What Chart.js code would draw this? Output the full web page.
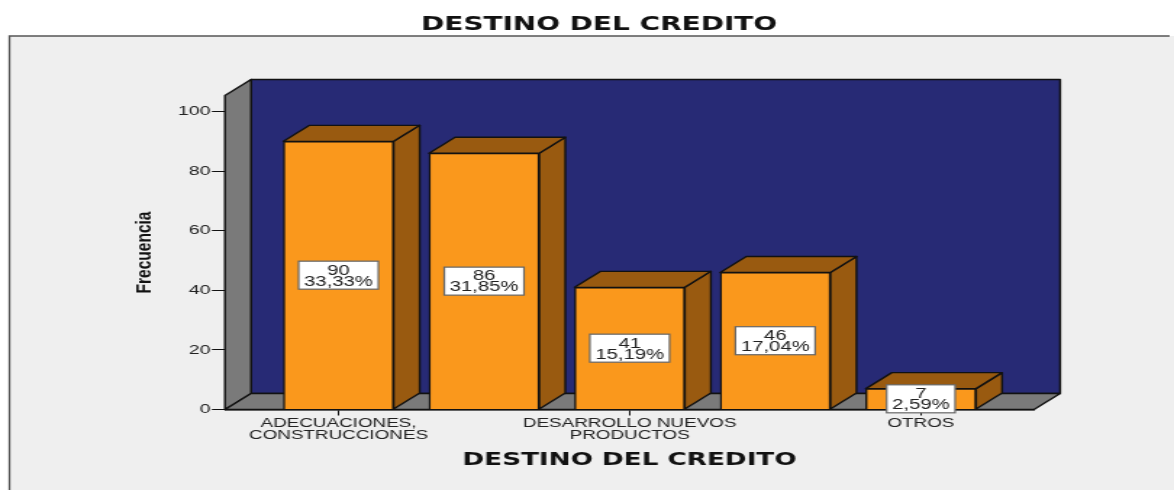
<!DOCTYPE html>
<html><head><meta charset="utf-8">
<script src="https://cdn.jsdelivr.net/npm/chart.js@4"></script>
<style>
html,body{margin:0;padding:0;background:#fff;width:1174px;height:490px;overflow:hidden}
#wrap{width:1174px;height:490px;overflow:hidden;position:relative}
canvas{position:absolute;left:0;top:0;transform-origin:0 0;transform:scaleX(1.4494)}
</style></head><body>
<div id="wrap"><canvas id="c" width="827" height="490"></canvas></div>
<script>
const chartTitle = 'DESTINO DEL CREDITO';
const xTitle = 'DESTINO DEL CREDITO';
const yTitle = 'Frecuencia';
const categories = [['ADECUACIONES,','CONSTRUCCIONES'], [''], ['DESARROLLO NUEVOS','PRODUCTOS'], [''], ['OTROS']];
const values = [90, 86, 41, 46, 7];
const percents = ['33,33%', '31,85%', '15,19%', '17,04%', '2,59%'];
const labelledTicks = [0, 2, 4];
const yTicks = [0, 20, 40, 60, 80, 100];

const DX = 18, DY = 16; // oblique depth of the 3D frame, canvas px
const poly = (ctx, pts, fill) => {
  ctx.beginPath();
  pts.forEach((p, i) => i ? ctx.lineTo(p[0], p[1]) : ctx.moveTo(p[0], p[1]));
  ctx.closePath();
  ctx.fillStyle = fill; ctx.fill();
  ctx.strokeStyle = '#111'; ctx.lineWidth = 1.4; ctx.lineJoin = 'round'; ctx.stroke();
};
const threeD = {
  id: 'threeD',
  beforeDraw(chart) {
    const c = chart.ctx;
    c.save();
    c.fillStyle = '#fff'; c.fillRect(0, 0, chart.width, chart.height);
    c.fillStyle = '#efefef'; c.fillRect(6, 36, chart.width, chart.height);
    c.strokeStyle = '#555'; c.lineWidth = 1.3;
    c.beginPath(); c.moveTo(6.5, 490); c.lineTo(6.5, 36); c.lineTo(807, 36); c.stroke();
    c.restore();
  },
  beforeDatasetsDraw(chart) {
    const c = chart.ctx, a = chart.chartArea;
    c.save();
    poly(c, [[a.left + DX, a.top - DY], [a.right + DX, a.top - DY], [a.right + DX, a.bottom - DY], [a.left + DX, a.bottom - DY]], '#272a75');
    poly(c, [[a.left, a.top], [a.left + DX, a.top - DY], [a.left + DX, a.bottom - DY], [a.left, a.bottom]], '#7a7a7a');
    poly(c, [[a.left, a.bottom], [a.left + DX, a.bottom - DY], [a.right + DX, a.bottom - DY], [a.right, a.bottom]], '#7a7a7a');
    chart.getDatasetMeta(0).data.forEach(b => {
      const l = b.x - b.width / 2, r = b.x + b.width / 2;
      poly(c, [[r, b.y], [r + DX, b.y - DY], [r + DX, b.base - DY], [r, b.base]], '#995a10');
      poly(c, [[l, b.y], [l + DX, b.y - DY], [r + DX, b.y - DY], [r, b.y]], '#995a10');
    });
    c.restore();
  },
  afterDatasetsDraw(chart) {
    const c = chart.ctx;
    c.save();
    c.font = '14px "Liberation Sans"';
    c.textAlign = 'center'; c.textBaseline = 'middle';
    chart.getDatasetMeta(0).data.forEach((b, i) => {
      const cy = (b.y + b.base) / 2;
      const w = c.measureText(percents[i]).width + 7.5, h = 28;
      c.fillStyle = '#fff'; c.fillRect(b.x - w / 2, cy - h / 2, w, h);
      c.strokeStyle = '#666'; c.lineWidth = 1.2; c.strokeRect(b.x - w / 2, cy - h / 2, w, h);
      c.fillStyle = '#222';
      c.fillText(String(values[i]), b.x, cy - 4.5);
      c.fillText(percents[i], b.x, cy + 6.5);
    });
    c.restore();
  }
};

new Chart(document.getElementById('c'), {
  type: 'bar',
  plugins: [threeD],
  data: {
    datasets: [{
      data: values.map((v, i) => ({ x: i, y: v })),
      backgroundColor: '#fa981c',
      borderColor: '#111',
      borderWidth: 1.4,
      barThickness: 76
    }]
  },
  options: {
    responsive: false,
    animation: false,
    devicePixelRatio: 1,
    layout: { padding: { left: 113.2, right: 113.6, top: 0, bottom: 19 } },
    plugins: {
      legend: { display: false },
      tooltip: { enabled: false },
      title: {
        display: true, text: chartTitle, color: '#111',
        font: { family: '"DejaVu Sans"', size: 19.3, weight: 'bold' },
        padding: { top: 13, bottom: 59.3 }
      }
    },
    scales: {
      x: {
        type: 'linear', min: -0.78, max: 4.777, offset: false,
        afterBuildTicks: s => { s.ticks = labelledTicks.map(v => ({ value: v })); },
        afterFit: s => { s.height = 61.5; },
        grid: { offset: false, drawOnChartArea: false, tickLength: 6, color: '#111' },
        border: { color: '#111', width: 1.4 },
        ticks: {
          autoSkip: false, maxRotation: 0, minRotation: 0, padding: 2, color: '#222',
          font: { family: '"Liberation Sans"', size: 13, lineHeight: 0.92 },
          callback: v => categories[v]
        },
        title: {
          display: true, text: xTitle, color: '#111', padding: 0,
          font: { family: '"DejaVu Sans"', size: 18.1, weight: 'bold' }
        }
      },
      y: {
        min: 0, max: 105.4,
        afterBuildTicks: s => { s.ticks = yTicks.map(v => ({ value: v })); },
        afterFit: s => { s.width = 42; },
        grid: { drawOnChartArea: false, tickLength: 9, color: '#111' },
        border: { color: '#111', width: 1.4 },
        ticks: {
          padding: 1, color: '#222',
          font: { family: '"Liberation Sans"', size: 13.5 }
        },
        title: {
          display: true, text: yTitle, color: '#111', padding: { top: -22.7, bottom: 0 },
          font: { family: '"Liberation Sans"', size: 15.5, weight: 'bold' }
        }
      }
    }
  }
});
</script>
</body></html>
